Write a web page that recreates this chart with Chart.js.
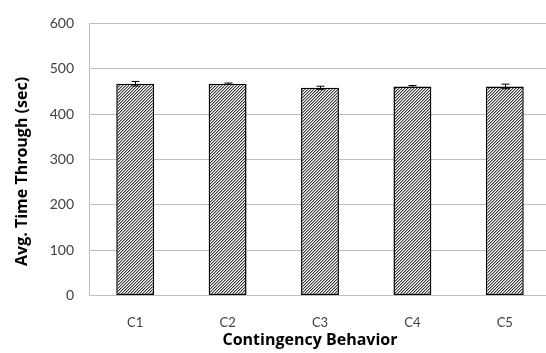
<!DOCTYPE html>
<html>
<head>
<meta charset="utf-8">
<script src="https://cdn.jsdelivr.net/npm/chart.js@4.4.1/dist/chart.umd.min.js"></script>
<style>
  html, body { margin: 0; padding: 0; background: #fff; overflow: hidden; }
  #wrap { width: 556px; height: 353px; position: relative; }
</style>
</head>
<body>
<div id="wrap"><canvas id="chart"></canvas></div>
<script>
// Average time through the course per contingency behavior, with error bars
const categories = ['C1', 'C2', 'C3', 'C4', 'C5'];
const avgTime = [467, 467, 458, 461, 461];
const errTime = [5, 1.5, 3.5, 2, 5];
const yTicks = [0, 100, 200, 300, 400, 500, 600];
const xTitle = 'Contingency Behavior';
const yTitle = 'Avg. Time Through (sec)';

// Fine upward-diagonal hatch fill
function makeHatch() {
  const c = document.createElement('canvas');
  c.width = 6; c.height = 6;
  const g = c.getContext('2d');
  g.fillStyle = '#ffffff';
  g.fillRect(0, 0, 6, 6);
  for (let y = 0; y < 6; y++) {
    for (let x = 0; x < 6; x++) {
      const k = (x + y) % 3;
      if (k === 0) { g.fillStyle = '#3a3a3a'; g.fillRect(x, y, 1, 1); }
      else if (k === 1) { g.fillStyle = '#a8a8a8'; g.fillRect(x, y, 1, 1); }
    }
  }
  return g.createPattern(c, 'repeat');
}

const ctx = document.getElementById('chart').getContext('2d');
const hatch = makeHatch();

// Draws symmetric error bars on top of each bar using the chart's scales
const errorBars = {
  id: 'errorBars',
  afterDatasetsDraw(chart) {
    const meta = chart.getDatasetMeta(0);
    const ys = chart.scales.y;
    const c = chart.ctx;
    c.save();
    c.strokeStyle = '#000000';
    c.lineWidth = 1;
    meta.data.forEach((bar, i) => {
      const x = Math.round(bar.x) + 0.5;
      const hi = ys.getPixelForValue(avgTime[i] + errTime[i]);
      const lo = ys.getPixelForValue(avgTime[i] - errTime[i]);
      const cap = 4;
      c.beginPath();
      c.moveTo(x, hi); c.lineTo(x, lo);
      c.moveTo(x - cap, hi); c.lineTo(x + cap, hi);
      c.moveTo(x - cap, lo); c.lineTo(x + cap, lo);
      c.stroke();
    });
    c.restore();
  }
};

// Axis titles, placed relative to the plot area
const axisTitles = {
  id: 'axisTitles',
  afterDraw(chart) {
    const a = chart.chartArea;
    const c = chart.ctx;
    c.save();
    c.fillStyle = '#000000';
    c.font = 'bold 16px "Open Sans"';
    c.textAlign = 'center';
    c.textBaseline = 'middle';
    c.fillText(xTitle, (a.left + a.right) / 2 - 10, 340);
    c.translate(22, (a.top + a.bottom) / 2 + 12);
    c.rotate(-Math.PI / 2);
    c.fillText(yTitle, 0, 0);
    c.restore();
  }
};

new Chart(ctx, {
  type: 'bar',
  data: {
    labels: categories,
    datasets: [{
      data: avgTime,
      backgroundColor: hatch,
      borderColor: '#000000',
      borderWidth: 1.5,
      borderSkipped: false,
      barPercentage: 1,
      categoryPercentage: 0.41
    }]
  },
  options: {
    responsive: true,
    maintainAspectRatio: false,
    animation: false,
    devicePixelRatio: 1,
    layout: { padding: { top: 13, right: 5, left: 0, bottom: 0 } },
    plugins: { legend: { display: false }, tooltip: { enabled: false } },
    scales: {
      x: {
        afterFit(axis) { axis.height = 57.5; },
        grid: { display: false, drawTicks: false },
        border: { color: '#bfbfbf', width: 1 },
        ticks: { color: '#404040', font: { family: 'Lato', size: 13 }, padding: 20 }
      },
      y: {
        min: 0, max: 600,
        afterFit(axis) { axis.width = 89; },
        afterBuildTicks(axis) { axis.ticks = yTicks.map(v => ({ value: v })); },
        grid: { color: '#bfbfbf', lineWidth: 1, drawTicks: false },
        border: { color: '#bfbfbf', width: 1 },
        ticks: { color: '#404040', font: { family: 'Lato', size: 14 }, padding: 15 }
      }
    }
  },
  plugins: [errorBars, axisTitles]
});
</script>
</body>
</html>
